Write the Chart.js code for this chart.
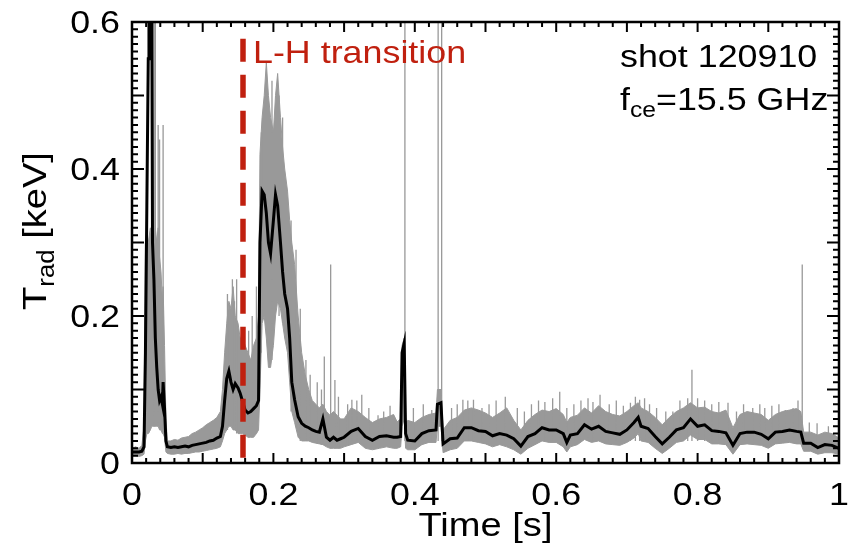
<!DOCTYPE html>
<html lang="en">
<head>
<meta charset="UTF-8">
<title>Trad shot 120910</title>
<script src="https://cdn.jsdelivr.net/npm/chart.js@4.4.1/dist/chart.umd.min.js"></script>
<style>
    body { margin: 0; background: #fff; }
    #wrap { width: 849px; height: 551px; }
</style>
</head>
<body>
<div id="wrap"><canvas id="tradChart" width="849" height="551"></canvas></div>
<script>
// time axis [s] shared by the smoothed trace and the raw envelope
const timeS = [
    0, 0.005, 0.01, 0.014, 0.017, 0.019, 0.021, 0.023, 0.024, 0.026, 0.028, 0.029, 0.031, 0.033, 0.035, 0.037,
    0.039, 0.041, 0.043, 0.044, 0.046, 0.048, 0.05,
    0.055, 0.06, 0.065, 0.07, 0.075, 0.08, 0.085, 0.09, 0.095, 0.1, 0.105, 0.11, 0.115, 0.12, 0.125, 0.128,
    0.131, 0.134, 0.137, 0.14, 0.143, 0.146, 0.15, 0.153, 0.156, 0.16, 0.164, 0.168, 0.172, 0.176, 0.179,
    0.181, 0.184, 0.187, 0.19, 0.193, 0.196, 0.2, 0.203, 0.206, 0.21, 0.213, 0.216, 0.22, 0.223, 0.226, 0.23,
    0.235, 0.24, 0.245, 0.25, 0.255, 0.26, 0.265, 0.27, 0.275, 0.28, 0.285, 0.29, 0.295,
    0.30, 0.31, 0.32, 0.33, 0.34, 0.35, 0.36, 0.37, 0.375, 0.38, 0.382, 0.385, 0.387, 0.39, 0.40, 0.41, 0.42,
    0.43, 0.432, 0.437, 0.44, 0.45, 0.46, 0.47, 0.48, 0.49, 0.50, 0.51, 0.52, 0.53, 0.54, 0.55, 0.56, 0.57,
    0.58, 0.59, 0.60, 0.61, 0.615, 0.62, 0.63, 0.64, 0.65, 0.66, 0.67, 0.68, 0.69, 0.70, 0.71, 0.716, 0.72,
    0.73, 0.74, 0.75, 0.76, 0.77, 0.78, 0.79, 0.80, 0.81, 0.82, 0.83, 0.84, 0.85, 0.86, 0.87, 0.88, 0.89,
    0.90, 0.91, 0.92, 0.93, 0.94, 0.946, 0.95, 0.96, 0.97, 0.98, 0.99, 1.0
];

// smoothed Trad [keV] (black)
const tradSmooth = [
    .015, .015, .015, .016, .022, .15, .35, .55, .62, .62, .62, .30, .25, .17, .13, .10,
    .085, .09, .08, .11, .075, .03, .022,
    .021, .022, .021, .022, .023, .022, .024, .025, .026, .027, .028, .030, .031, .034, .036, .050,
    .085, .115, .125, .11, .10, .108, .102, .095, .085, .072, .068, .070, .074, .078, .085,
    .30, .37, .365, .34, .30, .285, .33, .365, .35, .30, .26, .23, .21, .17, .11, .086,
    .063, .054, .05, .048, .045, .043, .042, .06, .035, .031, .035, .031, .033,
    .035, .043, .047, .036, .031, .036, .037, .035, .035, .036, .15, .163, .04, .031, .030, .040, .044,
    .045, .08, .082, .026, .033, .034, .048, .048, .044, .043, .037, .040, .038, .033, .023, .036, .040,
    .048, .045, .045, .040, .028, .038, .040, .052, .046, .050, .043, .041, .039, .045, .055, .062, .050,
    .047, .036, .026, .035, .045, .048, .060, .050, .052, .044, .043, .041, .024, .040, .042, .042, .039,
    .033, .042, .043, .045, .043, .042, .027, .027, .021, .025, .024, .020
];

// raw signal envelope (grey): lower and upper edge
const tradRawLo = [
    .010, .010, .009, .010, .012, .03, .04, .04, .04, .045, .05, .05, .05, .05, .05, .05,
    .045, .045, .04, .04, .035, .015, .013,
    .012, .012, .013, .012, .013, .013, .014, .015, .015, .016, .017, .018, .019, .020, .022, .030,
    .040, .045, .05, .05, .045, .045, .04, .04, .04, .038, .035, .035, .035, .04, .045,
    .10, .19, .20, .17, .13, .13, .16, .20, .22, .21, .19, .17, .15, .11, .07, .055,
    .035, .03, .03, .03, .028, .027, .026, .025, .022, .02, .02, .02, .02,
    .022, .025, .028, .020, .018, .020, .022, .020, .020, .022, .05, .06, .02, .018, .018, .025, .028,
    .028, .05, .05, .014, .018, .020, .030, .030, .028, .026, .022, .025, .022, .018, .012, .020, .025,
    .030, .028, .028, .022, .015, .022, .025, .032, .028, .030, .026, .025, .024, .028, .034, .040, .030,
    .028, .020, .013, .020, .028, .030, .038, .032, .032, .026, .026, .025, .012, .025, .026, .025, .024,
    .020, .026, .027, .028, .026, .026, .016, .016, .012, .014, .014, .012
];
const tradRawHi = [
    .020, .022, .020, .024, .05, .30, .30, .30, .30, .32, .30, .32, .30, .32, .30, .32,
    .28, .26, .22, .24, .16, .06, .030,
    .030, .032, .031, .034, .035, .036, .040, .042, .045, .048, .052, .055, .058, .062, .070, .10,
    .15, .19, .22, .21, .24, .20, .19, .17, .17, .16, .15, .14, .16, .17, .20,
    .42, .47, .50, .545, .50, .47, .45, .50, .53, .47, .43, .40, .37, .33, .30, .27,
    .20, .15, .12, .10, .085, .08, .075, .08, .07, .065, .07, .065, .06,
    .060, .075, .070, .062, .055, .060, .062, .066, .056, .060, .16, .17, .055, .058, .055, .062, .066,
    .068, .10, .10, .045, .058, .062, .072, .075, .072, .068, .062, .068, .075, .058, .045, .058, .066,
    .072, .070, .074, .066, .055, .062, .065, .075, .068, .078, .070, .066, .064, .070, .078, .082, .075,
    .070, .062, .052, .062, .070, .075, .082, .075, .076, .070, .068, .072, .048, .066, .070, .068, .066,
    .058, .066, .070, .072, .074, .070, .042, .042, .038, .042, .040, .034
];

// isolated spikes of the raw signal: time, foot and peak value
const spikeT = [
    0.031, 0.033, 0.037, 0.039, 0.044, 0.135, 0.142, 0.145, 0.148, 0.165, 0.17, 0.176, 0.183, 0.198,
    0.208, 0.213, 0.225, 0.232, 0.238, 0.246, 0.252, 0.262, 0.268, 0.272, 0.281, 0.287, 0.292, 0.305,
    0.311, 0.318, 0.325, 0.335, 0.348, 0.356, 0.365, 0.386, 0.398, 0.412, 0.424, 0.433, 0.438, 0.452,
    0.46, 0.468, 0.475, 0.483, 0.495, 0.505, 0.515, 0.528, 0.545, 0.555, 0.565, 0.575, 0.584, 0.595,
    0.605, 0.615, 0.625, 0.635, 0.645, 0.652, 0.662, 0.675, 0.685, 0.695, 0.705, 0.712, 0.718, 0.725,
    0.732, 0.742, 0.755, 0.765, 0.775, 0.786, 0.792, 0.8, 0.81, 0.82, 0.83, 0.843, 0.855, 0.865,
    0.878, 0.888, 0.895, 0.905, 0.915, 0.924, 0.935, 0.942, 0.948, 0.958, 0.969, 0.985
];
const spikeLow = [
    .05, .05, .05, .05, .04, .045, .05, .045, .04, .035, .035, .04, .15, .14,
    .20, .19, .07, .05, .03, .03, .03, .027, .025, .025, .02, .02, .02, .025,
    .03, .03, .03, .03, .03, .03, .03, .03, .03, .03, .03, .03, .03, .03,
    .03, .03, .03, .03, .03, .03, .03, .03, .03, .03, .03, .03, .03, .03,
    .03, .03, .03, .03, .03, .03, .03, .03, .03, .03, .03, .03, .03, .03,
    .03, .03, .03, .03, .03, .03, .03, .03, .03, .03, .03, .03, .03, .03,
    .03, .03, .03, .03, .03, .03, .03, .03, .03, .02, .02, .02
];
const spikeTop = [
    0.62, 0.62, 0.46, 0.44, 0.46, 0.23, 0.25, 0.22, 0.25, 0.18, 0.20, 0.24, 0.45, 0.52,
    0.50, 0.47, 0.33, 0.29, 0.21, 0.14, 0.12, 0.11, 0.10, 0.145, 0.27, 0.113, 0.09, 0.08,
    0.086, 0.085, 0.093, 0.075, 0.065, 0.07, 0.078, 0.62, 0.075, 0.08, 0.072, 0.62, 0.62, 0.075,
    0.08, 0.086, 0.085, 0.086, 0.075, 0.08, 0.085, 0.09, 0.075, 0.07, 0.08, 0.085, 0.083, 0.088,
    0.097, 0.075, 0.08, 0.085, 0.088, 0.083, 0.093, 0.08, 0.085, 0.078, 0.082, 0.09, 0.086, 0.088,
    0.08, 0.075, 0.07, 0.07, 0.085, 0.088, 0.127, 0.088, 0.085, 0.08, 0.083, 0.082, 0.07, 0.08,
    0.075, 0.08, 0.075, 0.078, 0.08, 0.072, 0.075, 0.085, 0.27, 0.055, 0.054, 0.05
];

// L-H transition marker
const lhTime = [0.157, 0.157];
const lhSpan = [0.007, 0.58];

const xTicks = [0, 0.2, 0.4, 0.6, 0.8, 1];
const xTickLabels = ['0', '0.2', '0.4', '0.6', '0.8', '1'];
const yTicks = [0, 0.2, 0.4, 0.6];
const yTickLabels = ['0', '0.2', '0.4', '0.6'];

const FONT = '"Liberation Sans", Arial, Helvetica, sans-serif';
const STRETCH = 1.12; // the original lettering is a bit wider than Arial
const GREY = '#999999';
const RED = '#c0200f';

function toPoints(xs, ys) {
    return xs.map((x, i) => ({ x: x, y: ys[i] }));
}

function spikePoints() {
    const pts = [];
    spikeT.forEach((t, i) => {
        pts.push({ x: t, y: spikeLow[i] }, { x: t, y: spikeTop[i] }, { x: t, y: null });
    });
    return pts;
}

// draw a run of text pieces (for sub-scripts), horizontally stretched
function drawParts(ctx, parts, x, y, align) {
    let w = 0;
    parts.forEach(p => {
        ctx.font = p.size + 'px ' + FONT;
        p.w = ctx.measureText(p.t).width * STRETCH;
        w += p.w;
    });
    let cx = align === 'right' ? x - w : (align === 'center' ? x - w / 2 : x);
    parts.forEach(p => {
        ctx.save();
        ctx.font = p.size + 'px ' + FONT;
        ctx.textAlign = 'left';
        ctx.textBaseline = 'alphabetic';
        ctx.fillStyle = p.color || '#000';
        ctx.translate(cx, y + (p.dy || 0));
        ctx.scale(STRETCH, 1);
        ctx.fillText(p.t, 0, 0);
        ctx.restore();
        cx += p.w;
    });
}

const framePlugin = {
    id: 'idlFrame',
    afterDatasetsDraw(chart) {
        const ctx = chart.ctx;
        const a = chart.chartArea;
        const xs = chart.scales.x, ys = chart.scales.y;
        ctx.save();
        ctx.strokeStyle = '#000';
        ctx.lineWidth = 2;
        ctx.beginPath();
        // x ticks every 0.02, major every 0.1, pointing inwards top and bottom
        for (let i = 0; i <= 50; i++) {
            const px = xs.getPixelForValue(i / 50);
            const len = i % 5 === 0 ? 10 : 5;
            ctx.moveTo(px, a.bottom); ctx.lineTo(px, a.bottom - len);
            ctx.moveTo(px, a.top); ctx.lineTo(px, a.top + len);
        }
        // y ticks every 0.01, major every 0.1
        for (let i = 0; i <= 60; i++) {
            const py = ys.getPixelForValue(i / 100);
            const len = i % 10 === 0 ? 12 : 6;
            ctx.moveTo(a.left, py); ctx.lineTo(a.left + len, py);
            ctx.moveTo(a.right, py); ctx.lineTo(a.right - len, py);
        }
        ctx.stroke();
        ctx.lineWidth = 2.5;
        ctx.strokeRect(a.left, a.top, a.right - a.left, a.bottom - a.top);
        ctx.restore();
    },
    afterDraw(chart) {
        const ctx = chart.ctx;
        const a = chart.chartArea;
        const xs = chart.scales.x, ys = chart.scales.y;

        xTicks.forEach((v, i) => {
            drawParts(ctx, [{ t: xTickLabels[i], size: 32 }], xs.getPixelForValue(v), 505, 'center');
        });
        yTicks.forEach((v, i) => {
            drawParts(ctx, [{ t: yTickLabels[i], size: 32 }], a.left - 12, ys.getPixelForValue(v) + 11, 'right');
        });

        drawParts(ctx, [{ t: 'Time [s]', size: 34 }], (a.left + a.right) / 2, 536, 'center');

        ctx.save();
        ctx.translate(46, 231);
        ctx.rotate(-Math.PI / 2);
        drawParts(ctx, [
            { t: 'T', size: 34 },
            { t: 'rad', size: 23, dy: 8 },
            { t: ' [keV]', size: 34 }
        ], 0, 0, 'center');
        ctx.restore();

        drawParts(ctx, [{ t: 'L-H transition', size: 32, color: RED }], 253, 63, 'left');
        drawParts(ctx, [{ t: 'shot 120910', size: 32 }], 620, 67, 'left');
        drawParts(ctx, [
            { t: 'f', size: 32 },
            { t: 'ce', size: 22, dy: 7 },
            { t: '=15.5 GHz', size: 32 }
        ], 620, 110, 'left');
    }
};

new Chart(document.getElementById('tradChart'), {
    type: 'line',
    data: {
        datasets: [
            {
                label: 'raw upper',
                data: toPoints(timeS, tradRawHi),
                borderColor: GREY,
                backgroundColor: GREY,
                borderWidth: 1,
                pointRadius: 0,
                fill: '+1',
                order: 4
            },
            {
                label: 'raw lower',
                data: toPoints(timeS, tradRawLo),
                borderColor: GREY,
                borderWidth: 1,
                pointRadius: 0,
                fill: false,
                order: 4
            },
            {
                label: 'raw spikes',
                data: spikePoints(),
                borderColor: GREY,
                borderWidth: 1.3,
                pointRadius: 0,
                spanGaps: false,
                fill: false,
                order: 3
            },
            {
                label: 'smoothed',
                data: toPoints(timeS, tradSmooth),
                borderColor: '#000',
                borderWidth: 3,
                pointRadius: 0,
                fill: false,
                order: 2
            },
            {
                label: 'L-H transition',
                data: toPoints(lhTime, lhSpan),
                borderColor: RED,
                borderWidth: 5.5,
                borderDash: [23, 13],
                pointRadius: 0,
                fill: false,
                order: 1
            }
        ]
    },
    options: {
        responsive: false,
        animation: false,
        events: [],
        layout: { padding: { left: 132, right: 10, top: 22, bottom: 88 } },
        elements: { line: { tension: 0 } },
        plugins: {
            legend: { display: false },
            tooltip: { enabled: false }
        },
        scales: {
            x: { type: 'linear', min: 0, max: 1, display: false },
            y: { type: 'linear', min: 0, max: 0.6, display: false }
        }
    },
    plugins: [framePlugin]
});
</script>
</body>
</html>
